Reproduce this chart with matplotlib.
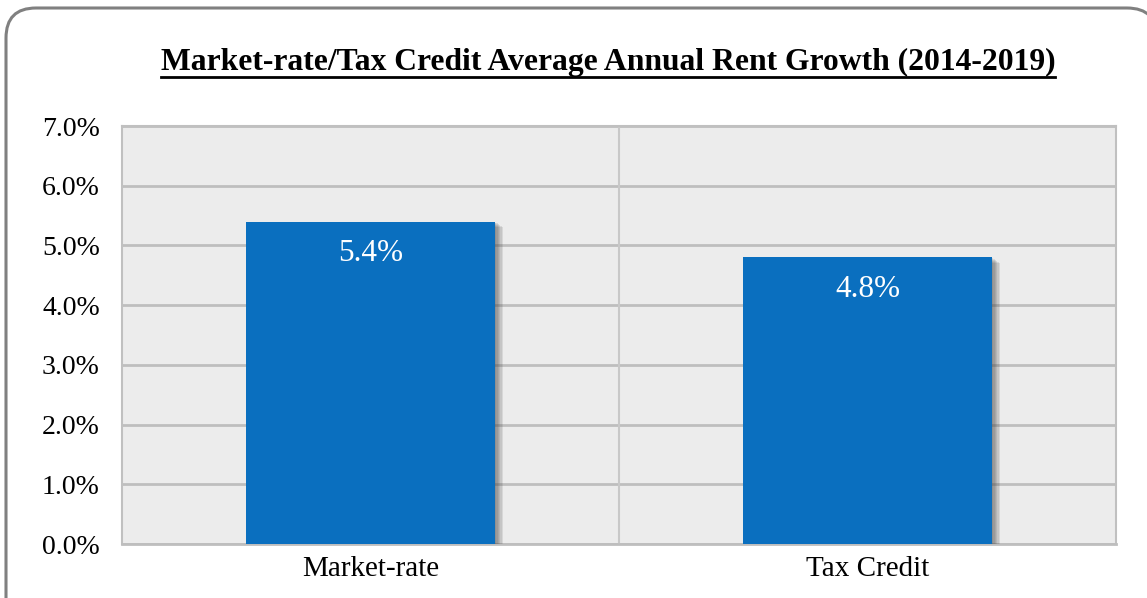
import matplotlib
matplotlib.use("Agg")
import matplotlib.pyplot as plt
from matplotlib.patches import FancyBboxPatch
from matplotlib.lines import Line2D
import matplotlib.patheffects as pe

categories = ["Market-rate", "Tax Credit"]
values = [5.4, 4.8]
yticks = [0, 1, 2, 3, 4, 5, 6, 7]
title = "Market-rate/Tax Credit Average Annual Rent Growth (2014-2019)"

plt.rcParams['font.family'] = ['Liberation Serif', 'DejaVu Serif']

W, H = 1147, 598
fig = plt.figure(figsize=(W / 100, H / 100), dpi=100)

# background overlay in pixel units for the rounded border
bg = fig.add_axes([0, 0, 1, 1], zorder=-1)
bg.set_xlim(0, W)
bg.set_ylim(H, 0)
bg.axis('off')
bg.add_patch(FancyBboxPatch((6, 8), W + 10 - 6, H + 40,
                            boxstyle="round,pad=0,rounding_size=30",
                            facecolor='white', edgecolor='#808080', linewidth=2.2,
                            clip_on=False))

left, right, top, bottom = 122, 1116, 126, 544
ax = fig.add_axes([left / W, 1 - bottom / H, (right - left) / W, (bottom - top) / H])
ax.set_facecolor('#ECECEC')
x = list(range(len(categories)))
shadow = [pe.SimplePatchShadow(offset=(d, -d * 0.7), shadow_rgbFace='#444444', alpha=0.12)
          for d in (1, 2, 3, 4, 5, 6)]
bars = ax.bar(x, values, width=0.5, color='#0A6FBF', zorder=3,
              path_effects=shadow + [pe.Normal()])
ax.set_xlim(-0.5, len(categories) - 0.5)
ax.set_ylim(0, 7)
ax.set_yticks(yticks)
ax.set_yticklabels([f"{v:.1f}%" for v in yticks], fontsize=20)
ax.set_xticks(x)
ax.set_xticklabels(categories, fontsize=21)
ax.tick_params(axis='both', length=0, colors='black')
ax.tick_params(axis='y', pad=16)
ax.tick_params(axis='x', pad=9)
ax.yaxis.grid(True, color='#BEBEBE', linewidth=2, zorder=1)
ax.set_axisbelow(True)
ax.axvline(0.5, color='#C8C8C8', linewidth=1.5, zorder=1)
for s in ax.spines.values():
    s.set_color('#C0C0C0')
    s.set_linewidth(1.5)
ax.spines['bottom'].set_color('#BEBEBE')
ax.spines['bottom'].set_linewidth(2)

for xi, v in zip(x, values):
    ax.text(xi, v - 0.3, f"{v:.1f}%", ha='center', va='top', color='white',
            fontsize=22.5, zorder=5)

t = fig.text(608 / W, 1 - 62 / H, title, ha='center', va='center',
             fontsize=22.8, fontweight='bold', color='black')
fig.canvas.draw()
bb = t.get_window_extent(fig.canvas.get_renderer())
uy = (bb.y0 - 0.5) / H
fig.add_artist(Line2D([bb.x0 / W, bb.x1 / W], [uy, uy], transform=fig.transFigure,
                      color='black', linewidth=2))

fig.savefig("out.png", dpi=100)
